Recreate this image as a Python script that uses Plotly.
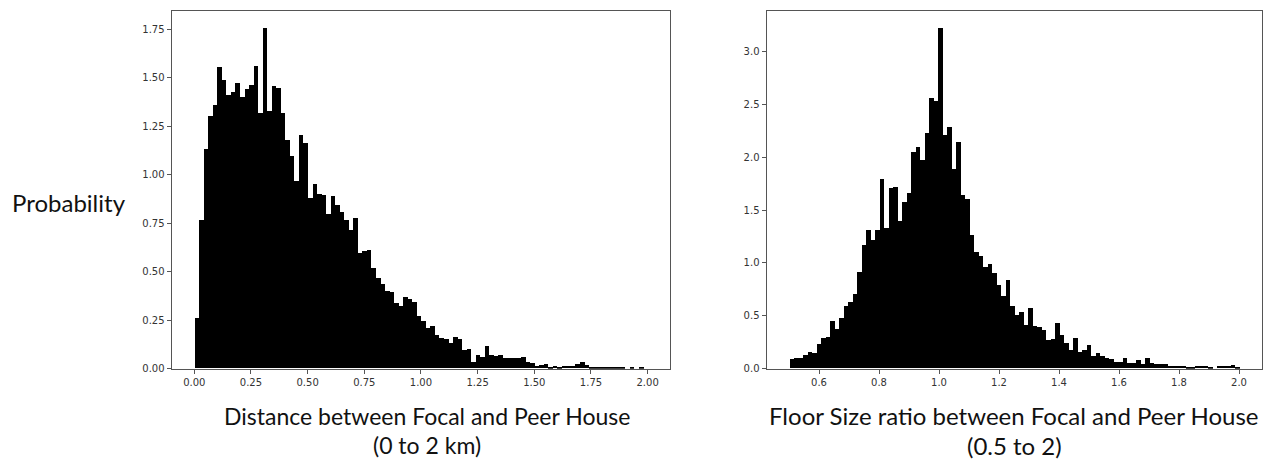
import numpy as np
import plotly.graph_objects as go

# ---- data (bin heights) ----
dist_range = [0.0, 2.0]
dist_density = [
    0.26, 0.766, 1.13, 1.30, 1.36, 1.557, 1.486, 1.409, 1.424, 1.472,
    1.399, 1.443, 1.46, 1.56, 1.315, 1.756, 1.327, 1.455, 1.446, 1.315,
    1.18, 1.098, 0.965, 1.203, 1.162, 0.877, 0.95, 0.902, 0.894, 0.797,
    0.889, 0.843, 0.804, 0.766, 0.715, 0.778, 0.593, 0.605, 0.61, 0.516,
    0.468, 0.435, 0.40, 0.392, 0.338, 0.319, 0.37, 0.358, 0.344, 0.27,
    0.242, 0.208, 0.218, 0.174, 0.154, 0.150, 0.132, 0.159, 0.149, 0.096,
    0.099, 0.031, 0.069, 0.060, 0.117, 0.069, 0.062, 0.067, 0.052, 0.055,
    0.055, 0.055, 0.060, 0.035, 0.026, 0.013, 0.018, 0.023, 0.009, 0.014,
    0.009, 0.014, 0.014, 0.012, 0.021, 0.030, 0.017, 0.004, 0.004, 0.004,
    0.008, 0.008, 0.008, 0.006, 0.005, 0.0, 0.006, 0.0, 0.006, 0.0,
]

ratio_range = [0.5, 2.0]
ratio_density = [
    0.084, 0.094, 0.094, 0.124, 0.156, 0.146, 0.234, 0.29, 0.296, 0.452,
    0.374, 0.474, 0.592, 0.623, 0.707, 0.913, 1.163, 1.31, 1.216, 1.31,
    1.79, 1.325, 1.705, 1.72, 1.394, 1.574, 1.66, 2.05, 2.095, 1.97,
    2.23, 2.56, 2.526, 3.22, 2.21, 2.28, 1.886, 2.145, 1.637, 1.605,
    1.265, 1.10, 1.06, 0.955, 0.99, 0.905, 0.79, 0.686, 0.835, 0.592,
    0.505, 0.53, 0.412, 0.567, 0.399, 0.39, 0.358, 0.265, 0.28, 0.43,
    0.318, 0.243, 0.171, 0.286, 0.155, 0.171, 0.218, 0.12, 0.145, 0.12,
    0.10, 0.09, 0.055, 0.055, 0.099, 0.047, 0.047, 0.075, 0.037, 0.099,
    0.047, 0.04, 0.04, 0.04, 0.025, 0.025, 0.025, 0.022, 0.009, 0.009,
    0.022, 0.022, 0.022, 0.009, 0.0, 0.022, 0.022, 0.022, 0.031, 0.006,
]

dist_xticks = [0.0, 0.25, 0.5, 0.75, 1.0, 1.25, 1.5, 1.75, 2.0]
dist_yticks = [0.0, 0.25, 0.5, 0.75, 1.0, 1.25, 1.5, 1.75]
ratio_xticks = [0.6, 0.8, 1.0, 1.2, 1.4, 1.6, 1.8, 2.0]
ratio_yticks = [0.0, 0.5, 1.0, 1.5, 2.0, 2.5, 3.0]

ylabel_text = "Probability"
left_title = ["Distance between Focal and Peer House", "(0 to 2 km)"]
right_title = ["Floor Size ratio between Focal and Peer House", "(0.5 to 2)"]


def centers(rng, n):
    edges = np.linspace(rng[0], rng[1], n + 1)
    return (edges[:-1] + edges[1:]) / 2, edges[1] - edges[0]


dx, dw = centers(dist_range, len(dist_density))
rx, rw = centers(ratio_range, len(ratio_density))

fig = go.Figure()
fig.add_trace(go.Bar(x=dx, y=dist_density, width=dw, marker=dict(color="black", line=dict(width=0)),
                     xaxis="x", yaxis="y", showlegend=False))
fig.add_trace(go.Bar(x=rx, y=ratio_density, width=rw, marker=dict(color="black", line=dict(width=0)),
                     xaxis="x2", yaxis="y2", showlegend=False))

W, H = 1263, 461
L = dict(x0=171.6, x1=670.3)
R = dict(x0=766.5, x1=1261.5)
ytop, ybot = 11.5, 373.5

axis_common = dict(showline=True, mirror=True, linecolor="#555555", linewidth=1,
                   ticks="outside", ticklen=4, tickwidth=1, tickcolor="#555555",
                   showgrid=False, zeroline=False,
                   tickfont=dict(family="DejaVu Sans", size=10, color="#333333"))

dist_ymax = max(dist_density) * 1.05
ratio_ymax = max(ratio_density) * 1.05
dpad = (dist_range[1] - dist_range[0]) * 0.05
rpad = (ratio_range[1] - ratio_range[0]) * 0.05

fig.update_layout(
    width=W, height=H, margin=dict(l=0, r=0, t=0, b=0),
    paper_bgcolor="white", plot_bgcolor="white", bargap=0,
    xaxis=dict(domain=[L["x0"] / W, L["x1"] / W], anchor="y",
               range=[dist_range[0] - dpad, dist_range[1] + dpad],
               tickvals=dist_xticks, ticktext=[f"{v:.2f}" for v in dist_xticks], **axis_common),
    yaxis=dict(domain=[1 - ybot / H, 1 - ytop / H], anchor="x",
               range=[0, dist_ymax],
               tickvals=dist_yticks, ticktext=[f"{v:.2f}" for v in dist_yticks], **axis_common),
    xaxis2=dict(domain=[R["x0"] / W, R["x1"] / W], anchor="y2",
                range=[ratio_range[0] - rpad, ratio_range[1] + rpad],
                tickvals=ratio_xticks, ticktext=[f"{v:.1f}" for v in ratio_xticks], **axis_common),
    yaxis2=dict(domain=[1 - ybot / H, 1 - ytop / H], anchor="x2",
                range=[0, ratio_ymax],
                tickvals=ratio_yticks, ticktext=[f"{v:.1f}" for v in ratio_yticks], **axis_common),
)

left_font = dict(family="Lato", size=23, color="#111111")
right_font = dict(family="Lato", size=24, color="#111111")
ann = [
    dict(text=ylabel_text, x=69 / W, y=1 - 205 / H, font=dict(family="Lato", size=24, color="#111111")),
    dict(text=left_title[0], x=427 / W, y=1 - 421 / H, font=left_font),
    dict(text=left_title[1], x=427 / W, y=1 - 451 / H, font=left_font),
    dict(text=right_title[0], x=1014 / W, y=1 - 421 / H, font=right_font),
    dict(text=right_title[1], x=1014 / W, y=1 - 451 / H, font=right_font),
]
for a in ann:
    fig.add_annotation(xref="paper", yref="paper", showarrow=False,
                       xanchor="center", yanchor="middle", **a)

fig.write_html("out.html", config={"displayModeBar": False},
               post_script="document.body.style.margin='0';document.body.style.overflow='hidden';")
